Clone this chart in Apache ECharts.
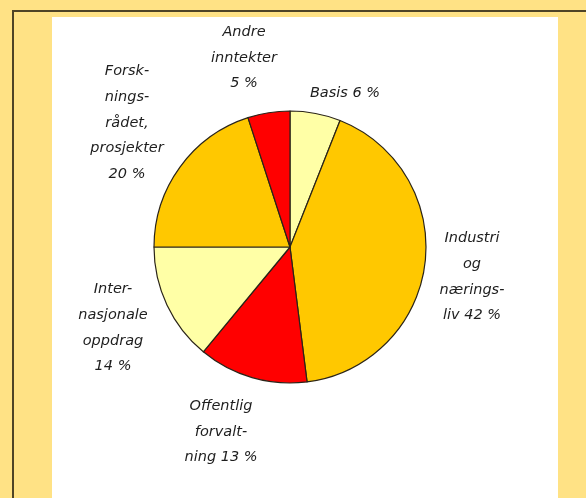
<!DOCTYPE html>
<html>
<head>
<meta charset="utf-8">
<script src="https://cdn.jsdelivr.net/npm/echarts@6/dist/echarts.min.js"></script>
<style>
  html, body { margin: 0; padding: 0; background: #FFE285; }
  #chart { width: 586px; height: 498px; }
</style>
</head>
<body>
<div id="chart"></div>
<script>
// Income sources, in percent of total
const categories = ['Basis', 'Industri og næringsliv', 'Offentlig forvaltning',
  'Internasjonale oppdrag', 'Forskningsrådet, prosjekter', 'Andre inntekter'];
const shares = [6, 42, 13, 14, 20, 5];
// Hyphenated label lines; the share is appended to the last line
const labelLines = [
  ['Basis'],
  ['Industri', 'og', 'nærings-', 'liv'],
  ['Offentlig', 'forvalt-', 'ning'],
  ['Inter-', 'nasjonale', 'oppdrag', ''],
  ['Forsk-', 'nings-', 'rådet,', 'prosjekter', ''],
  ['Andre', 'inntekter', '']
];

const sliceColors = ['#FFFFA6', '#FFC800', '#FF0000', '#FFFFA6', '#FFC800', '#FF0000'];
// Centre of each label block
const labelAnchors = [[345, 93], [472, 277], [221, 432], [113, 328], [127, 123], [244, 58]];

function labelText(i) {
  const lines = labelLines[i].slice();
  const last = lines.pop();
  lines.push((last ? last + ' ' : '') + shares[i] + ' %');
  return lines.join('\n');
}

const chart = echarts.init(document.getElementById('chart'), null, { renderer: 'canvas' });

chart.setOption({
  backgroundColor: '#FFE285',
  animation: false,
  graphic: [
    { type: 'rect', z: -10, shape: { x: 52, y: 17, width: 506, height: 490 },
      style: { fill: '#FFFFFF' } },
    { type: 'line', z: -5, shape: { x1: 12, y1: 11, x2: 586, y2: 11 },
      style: { stroke: '#4F4426', lineWidth: 2 } },
    { type: 'line', z: -5, shape: { x1: 13, y1: 10, x2: 13, y2: 498 },
      style: { stroke: '#4F4426', lineWidth: 2 } }
  ],
  series: [{
    type: 'pie',
    center: [290, 247],
    radius: 136,
    startAngle: 90,
    clockwise: true,
    data: categories.map((name, i) => ({
      name: name,
      value: shares[i],
      itemStyle: { color: sliceColors[i] }
    })),
    itemStyle: { borderColor: '#2A2418', borderWidth: 1.2 },
    label: {
      show: true,
      position: 'outside',
      formatter: p => labelText(p.dataIndex),
      fontFamily: 'DejaVu Sans',
      fontStyle: 'italic',
      fontSize: 14.5,
      lineHeight: 25.7,
      color: '#1E1E1E',
      align: 'center'
    },
    labelLine: { show: false },
    labelLayout: p => ({
      x: labelAnchors[p.dataIndex][0],
      y: labelAnchors[p.dataIndex][1],
      align: 'center',
      verticalAlign: 'middle'
    }),
    emphasis: { disabled: true }
  }]
});
</script>
</body>
</html>
